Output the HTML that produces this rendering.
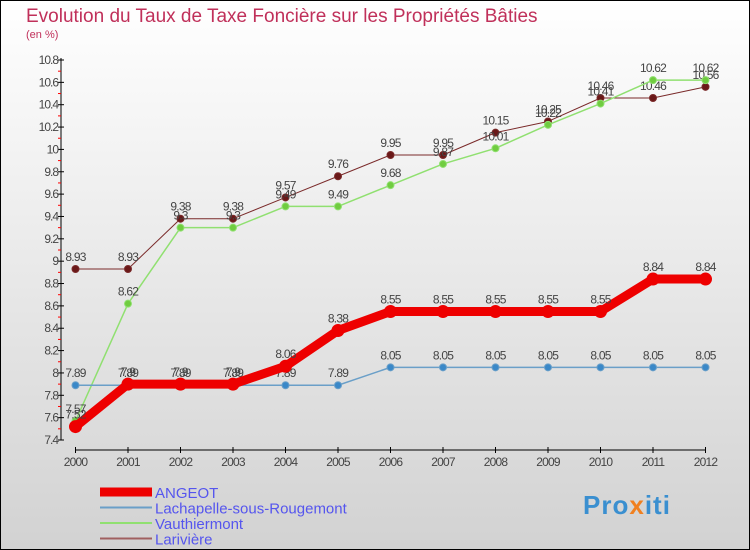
<!DOCTYPE html>
<html><head><meta charset="utf-8"><style>
body{margin:0;}
#c{position:relative;width:750px;height:550px;}
svg{display:block;font-family:"Liberation Sans",sans-serif;}
</style></head><body>
<div id="c">
<svg id="s" width="750" height="550">
<defs><linearGradient id="bg" x1="0" y1="0" x2="0" y2="1"><stop offset="0" stop-color="#ffffff"/><stop offset="1" stop-color="#d2d2d2"/></linearGradient></defs>
<rect x="0.5" y="0.5" width="749" height="549" fill="url(#bg)" stroke="#000"/>
<text x="26" y="22" font-size="19" fill="#c0305a">Evolution du Taux de Taxe Foncière sur les Propriétés Bâties</text>
<text x="26" y="38" font-size="11" fill="#c0305a">(en %)</text>
<g id="g"></g>
</svg>
<div style="position:absolute;left:583px;top:490px;font:bold 26px 'Liberation Sans',sans-serif;letter-spacing:1px"><span style="color:#3a8fd0">Pro</span><span style="color:#f08020">x</span><span style="color:#3a8fd0">iti</span></div>
</div>
<script>
const years=[2000,2001,2002,2003,2004,2005,2006,2007,2008,2009,2010,2011,2012];
const angeot=[7.52,7.9,7.9,7.9,8.06,8.38,8.55,8.55,8.55,8.55,8.55,8.84,8.84];
const lachapelle=[7.89,7.89,7.89,7.89,7.89,7.89,8.05,8.05,8.05,8.05,8.05,8.05,8.05];
const vauthiermont=[7.57,8.62,9.3,9.3,9.49,9.49,9.68,9.87,10.01,10.22,10.41,10.62,10.62];
const lariviere=[8.93,8.93,9.38,9.38,9.57,9.76,9.95,9.95,10.15,10.25,10.46,10.46,10.56];
const yTicks=[7.4,7.6,7.8,8,8.2,8.4,8.6,8.8,9,9.2,9.4,9.6,9.8,10,10.2,10.4,10.6,10.8];
const NS="http://www.w3.org/2000/svg";
const g=document.getElementById('g');
const X=i=>75.5+i*52.5;
const Y=v=>440-(v-7.4)*(380/3.4);
function el(t,a,p){const e=document.createElementNS(NS,t);for(const k in a)e.setAttribute(k,a[k]);(p||g).appendChild(e);return e;}
let ax=el('line',{x1:61,y1:58,x2:61,y2:440,stroke:'#000'});


let xa=el('line',{x1:75.5,y1:450,x2:705,y2:450,stroke:'#000'});


yTicks.forEach(v=>{
  el('line',{x1:58,y1:Y(v),x2:64,y2:Y(v),stroke:'#000'});
  if(v<10.8) el('line',{x1:58,y1:Y(v+0.1),x2:61,y2:Y(v+0.1),stroke:'#f00'});
  const t=el('text',{x:58,y:Y(v)+4,'font-size':12,fill:'#444','text-anchor':'end','letter-spacing':'-1'});
  t.textContent=String(v);
  
  
});
years.forEach((y,i)=>{
  el('line',{x1:X(i),y1:447,x2:X(i),y2:453,stroke:'#000'});
  const t=el('text',{x:X(i),y:466,'font-size':12,fill:'#444','text-anchor':'middle','letter-spacing':'-0.8'});
  t.textContent=y;
  
  
});
function series(data,color,w,r,name,dot){
  const s=el('polyline',{points:data.map((v,i)=>X(i)+','+Y(v)).join(' '),fill:'none',stroke:color,'stroke-width':w,'stroke-linejoin':'round'});
  
  
  data.forEach((v,i)=>{
    const c=el('circle',{cx:X(i),cy:Y(v),r:r,fill:dot,stroke:color,'stroke-width':1});
    
    
    const t=el('text',{x:X(i),y:Y(v)-8,'font-size':12,fill:'#444','text-anchor':'middle','letter-spacing':'-0.8'});
    t.textContent=String(v);
    
    
  });
}
series(lariviere,'#7a2a2a',1,3.5,'lariviere','#6a1818');
series(vauthiermont,'#90e070',1.5,3.5,'vauthiermont','#70cc40');
series(lachapelle,'#6a9fc8',1.5,3.5,'lachapelle','#3a88c8');
series(angeot,'#ee0000',9,6,'angeot','#ee0000');
const leg=[['ANGEOT','#ee0000',9],['Lachapelle-sous-Rougemont','#6a9fc8',2],['Vauthiermont','#90e070',2],['Larivière','#a06060',2]];
leg.forEach((l,i)=>{
  const y=492+i*15.5;
  const ln=el('line',{x1:100,y1:y,x2:152,y2:y,stroke:l[1],'stroke-width':l[2]});
  
  
  const t=el('text',{x:155,y:y+6,'font-size':15,fill:'#5555ee'});
  t.textContent=l[0];
  
  
});
</script>
</body></html>
